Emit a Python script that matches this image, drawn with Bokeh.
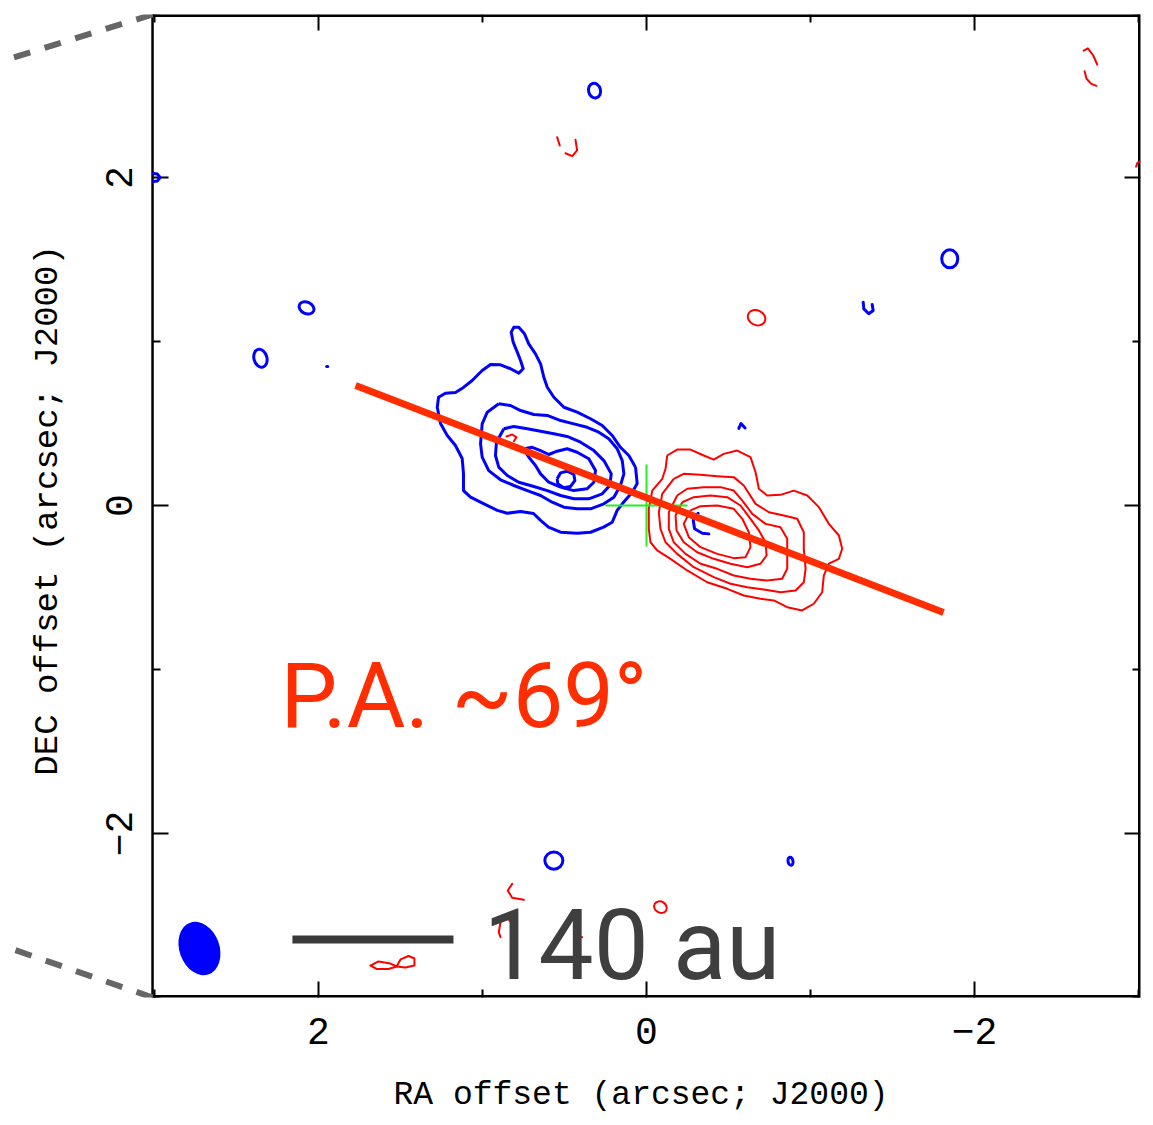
from bokeh.plotting import figure
from bokeh.models import Range1d, FixedTicker, Title
from bokeh.core.properties import value
from bokeh.embed import file_html
from bokeh.resources import INLINE
import math

# ---------------- data (RA / Dec offsets in arcsec) ----------------
map_ra_edges = (3.012, -3.012)          # map box, east (left) to west (right)
map_dec_edges = (-3.0, 2.994)
ra_view_left = 3.878                     # view extends left of the map for the zoom connectors
major_ticks = [-2, 0, 2]
minor_ticks = [-3, -1, 1, 3]
tick_labels = {-2: "\u22122", 0: "0", 2: "2"}

# blue-shifted lobe: closed contour levels (outer -> inner)
blue_c1 = [(0.067,0.234),(0.057,0.134),(0.087,0.081),(0.140,0.020),(0.179,-0.030),(0.209,-0.102),
           (0.262,-0.132),(0.341,-0.163),(0.423,-0.169),(0.524,-0.163),(0.598,-0.132),(0.646,-0.091),
           (0.689,-0.049),(0.768,-0.037),(0.849,-0.047),(0.910,-0.030),(0.994,0.012),(1.073,0.051),
           (1.116,0.091),(1.116,0.195),(1.124,0.287),(1.165,0.366),(1.215,0.427),(1.256,0.500),
           (1.276,0.599),(1.268,0.660),(1.226,0.685),(1.165,0.689),(1.116,0.720),(1.063,0.762),
           (1.002,0.823),(0.951,0.860),(0.890,0.858),(0.829,0.834),(0.779,0.807),(0.752,0.834),
           (0.768,0.884),(0.788,0.935),(0.813,0.996),(0.825,1.057),(0.809,1.087),(0.779,1.087),
           (0.744,1.047),(0.718,0.986),(0.677,0.925),(0.646,0.864),(0.626,0.782),(0.605,0.721),
           (0.565,0.660),(0.504,0.599),(0.423,0.569),(0.341,0.529),(0.270,0.488),(0.209,0.427),
           (0.159,0.355),(0.108,0.305)]
blue_c2 = [(0.901,0.620),(0.829,0.610),(0.768,0.579),(0.687,0.555),(0.605,0.549),(0.524,0.518),
           (0.443,0.498),(0.362,0.477),(0.291,0.447),(0.230,0.407),(0.179,0.346),(0.148,0.274),
           (0.138,0.193),(0.159,0.122),(0.199,0.051),(0.260,0.010),(0.341,-0.020),(0.423,-0.020),
           (0.504,-0.010),(0.575,0.020),(0.646,0.061),(0.727,0.091),(0.809,0.122),(0.890,0.157),
           (0.962,0.213),(1.002,0.295),(1.012,0.376),(1.002,0.498),(0.971,0.569)]
blue_c3 = [(0.870,0.468),(0.809,0.482),(0.727,0.468),(0.646,0.453),(0.565,0.437),(0.484,0.421),
           (0.402,0.386),(0.321,0.335),(0.260,0.274),(0.215,0.193),(0.224,0.122),(0.270,0.071),
           (0.352,0.041),(0.443,0.041),(0.524,0.061),(0.605,0.091),(0.687,0.116),(0.779,0.142),
           (0.849,0.183),(0.901,0.234),(0.921,0.305),(0.915,0.386)]
blue_c4 = [(0.748,0.346),(0.697,0.355),(0.646,0.335),(0.596,0.311),(0.545,0.331),(0.484,0.346),
           (0.423,0.325),(0.352,0.285),(0.311,0.213),(0.321,0.142),(0.362,0.102),(0.443,0.091),
           (0.524,0.112),(0.596,0.142),(0.646,0.193),(0.677,0.244),(0.718,0.295)]
blue_c5 = [(0.545,0.163),(0.524,0.199),(0.484,0.209),(0.443,0.189),(0.437,0.152),(0.463,0.116),
           (0.504,0.108),(0.541,0.132)]

# red-shifted lobe: closed contour levels (outer -> inner)
red_c1 = [(-0.126,0.305),(-0.187,0.341),(-0.268,0.341),(-0.349,0.305),(-0.410,0.280),(-0.471,0.315),
          (-0.553,0.335),(-0.634,0.295),(-0.665,0.203),(-0.685,0.102),(-0.736,0.061),(-0.817,0.065),
          (-0.898,0.091),(-0.980,0.061),(-1.051,-0.010),(-1.112,-0.112),(-1.173,-0.183),(-1.193,-0.264),
          (-1.173,-0.325),(-1.112,-0.355),(-1.081,-0.427),(-1.071,-0.529),(-1.020,-0.599),(-0.949,-0.640),
          (-0.858,-0.620),(-0.776,-0.579),(-0.695,-0.569),(-0.593,-0.549),(-0.492,-0.508),(-0.370,-0.468),
          (-0.248,-0.396),(-0.146,-0.325),(-0.065,-0.274),(-0.024,-0.224),(-0.014,-0.142),(-0.014,-0.020),
          (-0.035,0.091),(-0.096,0.163),(-0.116,0.224)]
red_c2 = [(-0.166,0.163),(-0.227,0.193),(-0.329,0.187),(-0.431,0.179),(-0.532,0.173),(-0.593,0.122),
          (-0.665,0.010),(-0.746,-0.041),(-0.837,-0.061),(-0.919,-0.081),(-0.959,-0.163),(-0.959,-0.264),
          (-0.970,-0.386),(-0.959,-0.468),(-0.909,-0.518),(-0.817,-0.529),(-0.715,-0.512),(-0.614,-0.498),
          (-0.512,-0.477),(-0.410,-0.437),(-0.288,-0.376),(-0.187,-0.295),(-0.116,-0.224),(-0.085,-0.142),
          (-0.075,-0.041),(-0.096,0.071)]
red_c3 = [(-0.187,0.061),(-0.248,0.102),(-0.349,0.112),(-0.451,0.112),(-0.532,0.091),(-0.584,0.030),
          (-0.645,-0.051),(-0.726,-0.112),(-0.817,-0.132),(-0.858,-0.203),(-0.858,-0.305),(-0.858,-0.386),
          (-0.827,-0.447),(-0.736,-0.457),(-0.634,-0.447),(-0.532,-0.427),(-0.431,-0.386),(-0.329,-0.355),
          (-0.238,-0.295),(-0.166,-0.224),(-0.136,-0.142),(-0.136,-0.041)]
red_c4 = [(-0.218,0.020),(-0.288,0.051),(-0.390,0.061),(-0.492,0.051),(-0.573,0.000),(-0.634,-0.081),
          (-0.685,-0.152),(-0.726,-0.224),(-0.732,-0.305),(-0.695,-0.355),(-0.614,-0.376),(-0.512,-0.355),
          (-0.410,-0.325),(-0.309,-0.285),(-0.227,-0.224),(-0.183,-0.152),(-0.177,-0.061)]
red_c5 = [(-0.268,-0.030),(-0.329,-0.004),(-0.431,0.000),(-0.532,-0.020),(-0.584,-0.081),(-0.624,-0.163),
          (-0.634,-0.254),(-0.604,-0.315),(-0.532,-0.321),(-0.431,-0.295),(-0.329,-0.254),(-0.258,-0.193),
          (-0.227,-0.112)]

# small open contour fragments (noise)
blue_open = [
    [(-0.315,-0.047),(-0.285,-0.091),(-0.293,-0.142),(-0.340,-0.169),(-0.380,-0.173)],
    [(-1.321,1.240),(-1.325,1.199),(-1.355,1.169),(-1.382,1.189),(-1.376,1.226)],
    [(-0.563,0.470),(-0.576,0.500),(-0.601,0.473)],
    [(3.006,2.024),(2.982,2.021),(2.966,2.000),(2.982,1.979),(3.006,1.976)],
    [(1.950,0.848),(1.944,0.848)],
]
red_open = [
    [(0.545,2.246),(0.529,2.195)],
    [(0.433,2.230),(0.423,2.165),(0.453,2.130),(0.494,2.148)],
    [(0.854,0.421),(0.819,0.433),(0.793,0.416),(0.809,0.392)],
    [(0.819,-2.307),(0.846,-2.348),(0.819,-2.392),(0.748,-2.404)],
    [(0.809,-2.561),(0.849,-2.514),(0.890,-2.541),(0.901,-2.602),(0.890,-2.632)],
    [(0.427,-2.652),(0.423,-2.628),(0.392,-2.632)],
    [(1.683,-2.805),(1.634,-2.780),(1.561,-2.793),(1.524,-2.811),(1.500,-2.768),(1.451,-2.747),
     (1.415,-2.762),(1.415,-2.805),(1.470,-2.817),(1.524,-2.811),(1.573,-2.826),(1.646,-2.826),(1.683,-2.805)],
    [(-2.666,2.774),(-2.691,2.788),(-2.724,2.744),(-2.748,2.689)],
    [(-2.671,2.648),(-2.683,2.602),(-2.712,2.571),(-2.744,2.559)],
    [(-2.985,2.067),(-2.994,2.091),(-3.009,2.098)],
]

# small closed contour islands: centre RA, Dec, size (arcsec), tilt (deg)
blue_isl_ra = [0.317, 2.073, 2.354, -1.849, 0.565, -0.878]
blue_isl_dec = [2.530, 1.205, 0.898, 1.504, -2.165, -2.169]
blue_isl_w = [0.073, 0.095, 0.079, 0.098, 0.110, 0.030]
blue_isl_h = [0.090, 0.070, 0.112, 0.110, 0.105, 0.050]
blue_isl_tilt = [15, -25, 15, 0, 0, 10]
red_isl_ra = [-0.671, -0.085]
red_isl_dec = [1.145, -2.449]
red_isl_w = [0.110, 0.080]
red_isl_h = [0.090, 0.068]
red_isl_tilt = [-25, -30]

# position-angle line, source position cross, beam, scale bar
pa_line_ra = [1.774, -1.811]
pa_line_dec = [0.732, -0.652]
cross_halfsize = 0.25
beam_ra, beam_dec = 2.726, -2.701
beam_minor, beam_major, beam_tilt = 0.244, 0.335, 20
scalebar_ra = [2.159, 1.177]
scalebar_dec = -2.646
pa_text = "P.A. ~69\u00b0"
scale_text = "140 au"
x_title = "RA offset (arcsec; J2000)"
y_title = "DEC offset (arcsec; J2000)"
zoom_top_ra = [3.012, 3.878]
zoom_top_dec = [2.994, 2.726]
zoom_bottom_ra = [3.012, 3.878]
zoom_bottom_dec = [-3.0, -2.701]

# ---------------- figure ----------------
PX = 164.0  # pixels per arcsec (style constant)
p = figure(frame_width=1130, frame_height=983,
           x_range=Range1d(ra_view_left, map_ra_edges[1]), y_range=Range1d(*map_dec_edges),
           output_backend="svg", toolbar_location=None,
           min_border_left=10, min_border_top=14, min_border_right=5, min_border_bottom=0,
           background_fill_color="white", border_fill_color="white")
p.xgrid.visible = False
p.ygrid.visible = False
p.outline_line_color = None
p.yaxis.visible = False

xa = p.xaxis[0]
xa.ticker = FixedTicker(ticks=major_ticks, minor_ticks=minor_ticks)
xa.axis_line_color = None
xa.major_tick_in = 16
xa.major_tick_out = 0
xa.minor_tick_in = 8
xa.minor_tick_out = 0
xa.major_tick_line_width = 2
xa.minor_tick_line_width = 2
xa.major_tick_line_color = "black"
xa.minor_tick_line_color = "black"
xa.major_label_overrides = tick_labels
xa.major_label_text_font = "Liberation Mono"
xa.major_label_text_font_size = "38px"
xa.major_label_text_color = "black"
xa.major_label_standoff = 20
xa.axis_label = None

# RA title below, centred on the map box (not on the wider view)
p.add_layout(Title(text=x_title, align="left", offset=383, standoff=56,
                   text_font="Liberation Mono", text_font_size="33px",
                   text_font_style="normal", text_color="black"), "below")

ra_l, ra_r = map_ra_edges
dec_b, dec_t = map_dec_edges

# map box (top/right/bottom sit on the frame edge, half clipped -> doubled width)
p.line([ra_l, ra_r, ra_r, ra_l], [dec_t, dec_t, dec_b, dec_b], line_color="black", line_width=5)
p.line([ra_l, ra_l], [dec_b, dec_t], line_color="black", line_width=2.5)

# ticks on the left, right and top sides (inward)
L_MAJ, L_MIN = 16 / PX, 8 / PX
p.segment(x0=[ra_l] * len(major_ticks), y0=major_ticks, x1=[ra_l - L_MAJ] * len(major_ticks), y1=major_ticks,
          line_color="black", line_width=2)
p.segment(x0=[ra_l] * len(minor_ticks), y0=minor_ticks, x1=[ra_l - L_MIN] * len(minor_ticks), y1=minor_ticks,
          line_color="black", line_width=2)
p.segment(x0=[ra_r] * len(major_ticks), y0=major_ticks, x1=[ra_r + L_MAJ] * len(major_ticks), y1=major_ticks,
          line_color="black", line_width=2)
p.segment(x0=[ra_r] * len(minor_ticks), y0=minor_ticks, x1=[ra_r + L_MIN] * len(minor_ticks), y1=minor_ticks,
          line_color="black", line_width=2)
p.segment(x0=major_ticks, y0=[dec_t] * len(major_ticks), x1=major_ticks, y1=[dec_t - L_MAJ] * len(major_ticks),
          line_color="black", line_width=2)
p.segment(x0=minor_ticks, y0=[dec_t] * len(minor_ticks), x1=minor_ticks, y1=[dec_t - L_MIN] * len(minor_ticks),
          line_color="black", line_width=2)

# Dec tick labels and title (rotated, left of the map box)
p.text(x=[ra_l + 34 / PX] * len(major_ticks), y=major_ticks, text=[tick_labels[t] for t in major_ticks],
       angle=math.pi / 2, text_font=value("Liberation Mono"), text_font_size="38px",
       text_color="black", text_align="center", text_baseline="middle")
p.text(x=[ra_l + 105 / PX], y=[-0.03], text=[y_title], angle=math.pi / 2,
       text_font=value("Liberation Mono"), text_font_size="34px",
       text_color="black", text_align="center", text_baseline="middle")


def ring_xs(rings, close=True):
    xs, ys = [], []
    for r in rings:
        pts = list(r) + ([r[0]] if close else [])
        xs.append([q[0] for q in pts])
        ys.append([q[1] for q in pts])
    return xs, ys


bx, by = ring_xs([blue_c1, blue_c2, blue_c3, blue_c4, blue_c5])
rx, ry = ring_xs([red_c1, red_c2, red_c3, red_c4, red_c5])
box, boy = ring_xs(blue_open, close=False)
rox, roy = ring_xs(red_open, close=False)

p.multi_line(rx, ry, line_color="#ff0000", line_width=2, line_join="round")
p.multi_line(rox, roy, line_color="#ff0000", line_width=2, line_join="round", line_cap="round")
p.ellipse(x=red_isl_ra, y=red_isl_dec, width=red_isl_w, height=red_isl_h,
          angle=[math.radians(a) for a in red_isl_tilt],
          fill_color=None, line_color="#ff0000", line_width=2)
p.multi_line(bx, by, line_color="#0000ff", line_width=3, line_join="round")
p.multi_line(box, boy, line_color="#0000ff", line_width=3, line_join="round", line_cap="round")
p.ellipse(x=blue_isl_ra, y=blue_isl_dec, width=blue_isl_w, height=blue_isl_h,
          angle=[math.radians(a) for a in blue_isl_tilt],
          fill_color=None, line_color="#0000ff", line_width=3)

# source position cross
p.segment(x0=[cross_halfsize, 0], y0=[0, cross_halfsize],
          x1=[-cross_halfsize, 0], y1=[0, -cross_halfsize],
          line_color="#22ee22", line_width=2)

# position-angle line
p.line(pa_line_ra, pa_line_dec, line_color="#ff2d00", line_width=7)

# beam
p.ellipse(x=[beam_ra], y=[beam_dec], width=[beam_minor], height=[beam_major],
          angle=[math.radians(beam_tilt)], fill_color="#0000ff", line_color=None)

# scale bar
p.line(scalebar_ra, [scalebar_dec, scalebar_dec], line_color="#3a3a3a", line_width=8)

p.text(x=[2.232], y=[-1.165], text=[pa_text], text_font=value("Roboto"),
       text_font_size="90px", text_color="#ff2d00", text_align="left",
       text_baseline="alphabetic")
p.text(x=[0.994], y=[-2.683], text=[scale_text], text_font=value("Roboto"),
       text_font_size="98px", text_font_style="normal", text_color="#3f3f3f", text_align="left",
       text_baseline="alphabetic")

# zoom-connector dashed lines to the left of the map
p.line(zoom_top_ra, zoom_top_dec, line_color="#666666", line_width=6, line_dash="17 15")
p.line(zoom_bottom_ra, zoom_bottom_dec, line_color="#666666", line_width=6, line_dash="17 15")

open("out.html", "w").write(file_html(p, INLINE))
